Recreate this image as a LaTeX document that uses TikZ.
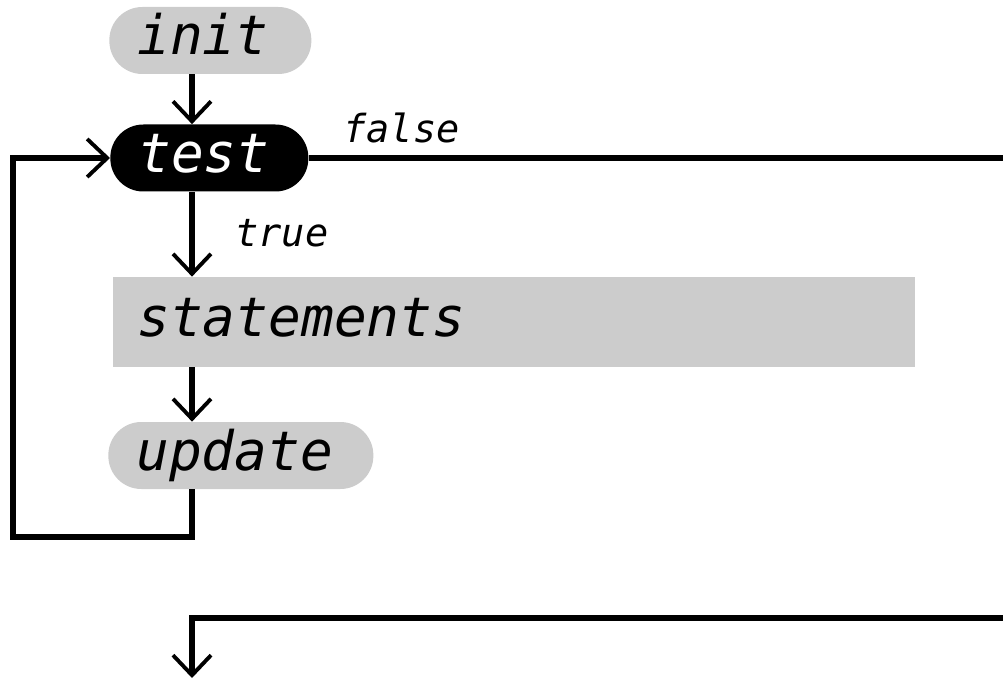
\documentclass[tikz,border=0pt]{standalone}
\usepackage{fontspec}
\setmonofont{DejaVu Sans Mono}
\usepackage{xcolor}
\definecolor{boxgray}{gray}{0.80}
\usepackage{tikz}
\usetikzlibrary{arrows.meta,positioning,calc}
\tikzset{
  flow/.style={line width=3pt,-{Straight Barb[length=4mm,width=7.6mm,line width=2.2pt]}},
  plain/.style={line width=3pt},
  codetxt/.style={font=\fontsize{31}{36}\selectfont\ttfamily\itshape,text height=0.85cm,text depth=0.27cm},
  pill/.style={codetxt,fill=boxgray,rounded corners=6.6mm,minimum height=13.4mm,inner xsep=5.6mm,inner ysep=0pt,align=left,anchor=west},
  stmtbox/.style={codetxt,fill=boxgray,minimum height=18mm,inner xsep=4.8mm,inner ysep=0pt,align=left,anchor=west},
  blab/.style={font=\fontsize{22}{26}\selectfont\ttfamily\itshape,anchor=base west,inner sep=0pt},
}

\begin{document}
\begin{tikzpicture}[x=0.2mm,y=-0.2mm]
  \useasboundingbox (0,0) rectangle (1003,678);
  \coordinate (spine) at (192,0);
  % boxes of the loop
  \node[pill,text width=29.2mm] (init) at (109,40.5) {init};
  \node[pill,fill=black,text=white,text width=28.4mm] (test) at (110,158) {test};
  \node[stmtbox,text width=150.8mm] (stmts) at (113,322) {statements};
  \node[pill,text width=41.8mm] (update) at (108,455.5) {update};
  % arrows down the spine
  \draw[flow] (init.south -| spine) -- (test.north -| spine);
  \draw[flow] (test.south -| spine) -- (stmts.north -| spine);
  \draw[flow] (stmts.south -| spine) -- (update.north -| spine);
  \node[blab] (truelab) at (235,247) {true};
  % back to the test
  \draw[flow] (update.south -| spine) |- (13,537) |- (test.west);
  % false branch leaves on the right ...
  \coordinate (falseout) at (1003,0);
  \draw[plain] (test.east) -- (test.east -| falseout);
  \node[blab] (falselab) at (343,143) {false};
  % ... and comes back in below
  \coordinate (backin) at (1003,618);
  \coordinate (next) at (192,678);
  \draw[flow] (backin) -| (next);
\end{tikzpicture}
\end{document}
